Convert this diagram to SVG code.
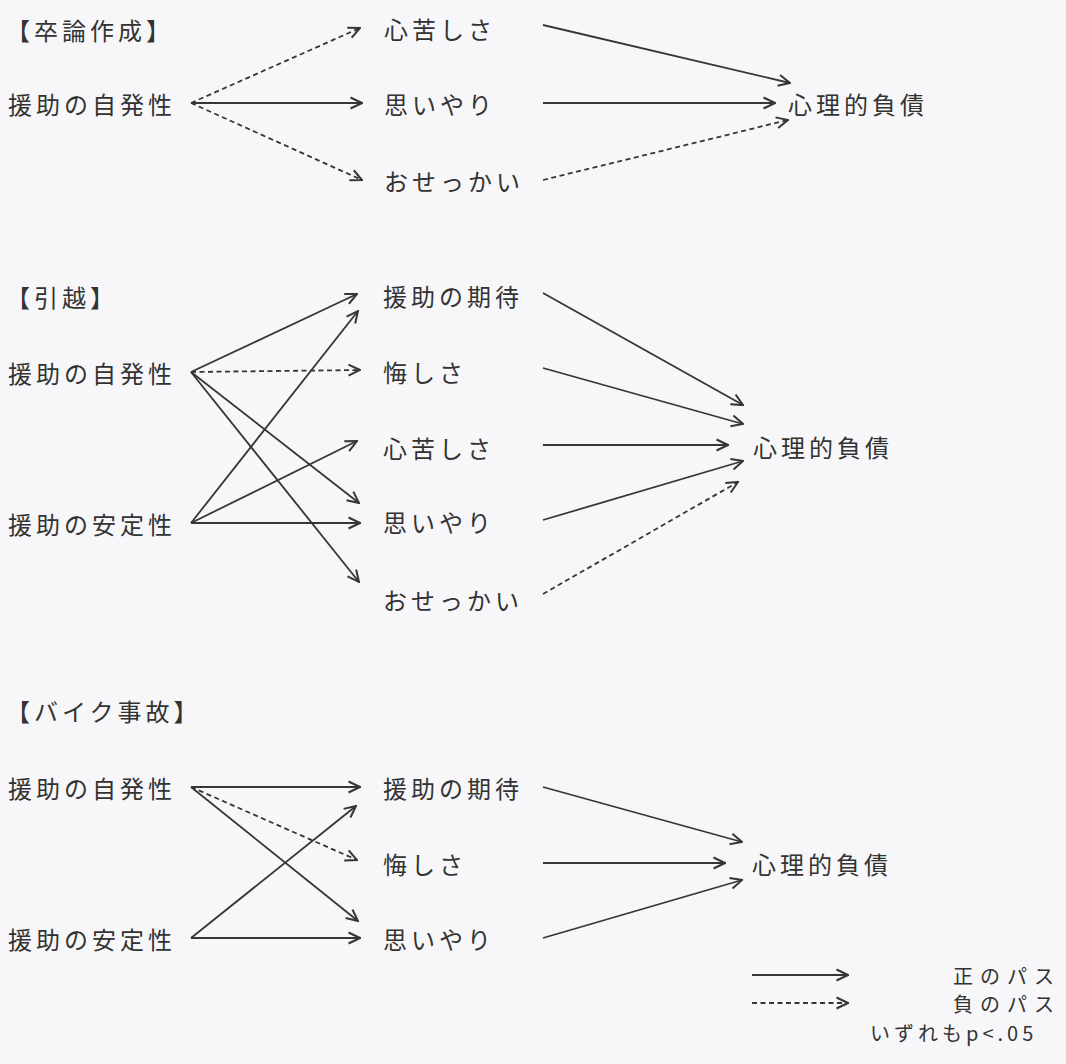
<svg xmlns="http://www.w3.org/2000/svg" width="1066" height="1064" viewBox="0 0 1066 1064">
<style>
text{font-family:"Noto Sans CJK JP","Noto Sans CJK SC",sans-serif;font-size:24px;fill:#333;letter-spacing:4px;dominant-baseline:central}
.lg{font-size:20px;letter-spacing:7px}
.c{stroke:#363636;stroke-width:1.8;fill:none;marker-end:url(#ah)}
.d{stroke-dasharray:5 3.5}
</style>
<defs>
<marker id="ah" viewBox="0 0 14 14" refX="13" refY="7" markerWidth="14" markerHeight="14" markerUnits="userSpaceOnUse" orient="auto">
<path d="M1.5,1.5 L13,7 L1.5,12.5" fill="none" stroke="#363636" stroke-width="2"/>
</marker>
</defs>
<rect width="1066" height="1064" fill="#f7f7f9"/>

<g id="connectors">
<line class="c d" x1="191" y1="103" x2="360" y2="28"/>
<line class="c" x1="191" y1="103" x2="362" y2="103"/>
<line class="c d" x1="191" y1="103" x2="362" y2="180"/>
<line class="c" x1="543" y1="25" x2="790" y2="83"/>
<line class="c" x1="543" y1="103" x2="775" y2="103"/>
<line class="c d" x1="543" y1="180" x2="788" y2="120"/>
<line class="c" x1="191" y1="372" x2="357" y2="294"/>
<line class="c d" x1="191" y1="372" x2="360" y2="370"/>
<line class="c" x1="191" y1="372" x2="359" y2="503"/>
<line class="c" x1="191" y1="372" x2="359" y2="582"/>
<line class="c" x1="191" y1="523" x2="358" y2="311"/>
<line class="c" x1="191" y1="523" x2="357" y2="441"/>
<line class="c" x1="191" y1="523" x2="360" y2="523"/>
<line class="c" x1="543" y1="293" x2="743" y2="405"/>
<line class="c" x1="543" y1="368" x2="743" y2="424"/>
<line class="c" x1="543" y1="445" x2="728" y2="445"/>
<line class="c" x1="543" y1="520" x2="743" y2="461"/>
<line class="c d" x1="543" y1="594" x2="738" y2="482"/>
<line class="c" x1="191" y1="787" x2="360" y2="787"/>
<line class="c d" x1="191" y1="787" x2="357" y2="860"/>
<line class="c" x1="191" y1="787" x2="358" y2="921"/>
<line class="c" x1="191" y1="938" x2="356" y2="806"/>
<line class="c" x1="191" y1="938" x2="360" y2="938"/>
<line class="c" x1="543" y1="787" x2="742" y2="842"/>
<line class="c" x1="543" y1="863" x2="725" y2="863"/>
<line class="c" x1="543" y1="938" x2="742" y2="880"/>
<line class="c" x1="752" y1="975" x2="848" y2="975"/>
<line class="c d" x1="752" y1="1003" x2="848" y2="1003"/>
</g>

<g id="s1-title"><text x="6" y="29">【卒論作成】</text></g>
<g id="s1-jihatsu"><text x="8" y="103">援助の自発性</text></g>
<g id="s1-kokorogurushisa"><text x="384" y="28">心苦しさ</text></g>
<g id="s1-omoiyari"><text x="384" y="103">思いやり</text></g>
<g id="s1-osekkai"><text x="384" y="180">おせっかい</text></g>
<g id="s1-fusai"><text x="788" y="103">心理的負債</text></g>

<g id="s2-title"><text x="6" y="296">【引越】</text></g>
<g id="s2-jihatsu"><text x="8" y="372">援助の自発性</text></g>
<g id="s2-antei"><text x="8" y="523">援助の安定性</text></g>
<g id="s2-kitai"><text x="383" y="295">援助の期待</text></g>
<g id="s2-kuyashisa"><text x="383" y="371">悔しさ</text></g>
<g id="s2-kokorogurushisa"><text x="383" y="447">心苦しさ</text></g>
<g id="s2-omoiyari"><text x="383" y="521">思いやり</text></g>
<g id="s2-osekkai"><text x="383" y="599">おせっかい</text></g>
<g id="s2-fusai"><text x="753" y="446">心理的負債</text></g>

<g id="s3-title"><text x="6" y="710">【バイク事故】</text></g>
<g id="s3-jihatsu"><text x="8" y="787">援助の自発性</text></g>
<g id="s3-antei"><text x="8" y="938">援助の安定性</text></g>
<g id="s3-kitai"><text x="383" y="787">援助の期待</text></g>
<g id="s3-kuyashisa"><text x="383" y="863">悔しさ</text></g>
<g id="s3-omoiyari"><text x="383" y="938">思いやり</text></g>
<g id="s3-fusai"><text x="752" y="863">心理的負債</text></g>

<g id="legend">
<text class="lg" x="953" y="975">正のパス</text>
<text class="lg" x="953" y="1003">負のパス</text>
<text class="lg" x="870" y="1032" style="letter-spacing:4px">いずれもp&lt;.05</text>
</g>
</svg>
